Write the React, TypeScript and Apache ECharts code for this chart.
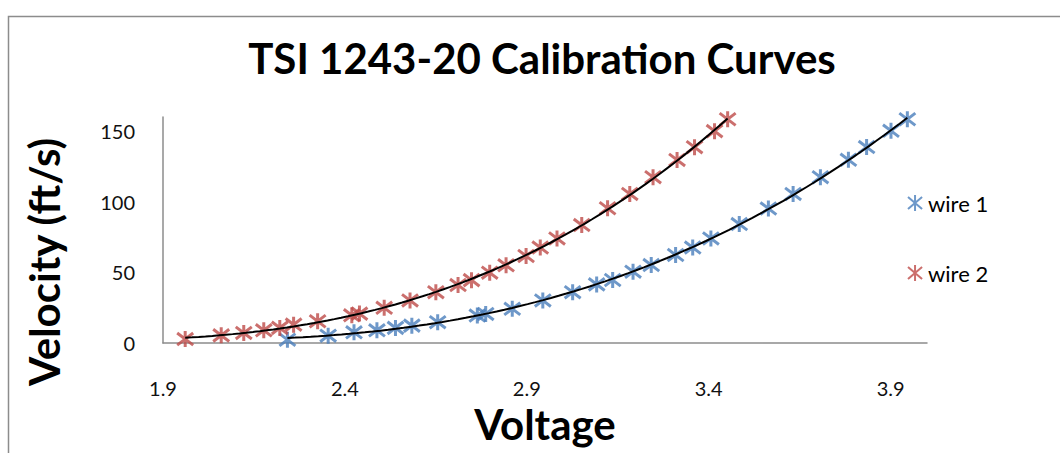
import React, { useEffect, useRef } from "react";
import * as echarts from "echarts";

const titleText = "TSI 1243-20 Calibration Curves";
const xAxisTitle = "Voltage";
const yAxisTitle = "Velocity (ft/s)";
const xTickValues = [1.9, 2.4, 2.9, 3.4, 3.9];

const wire1Voltage = [2.242, 2.354, 2.425, 2.488, 2.539, 2.584, 2.655, 2.764, 2.787, 2.86, 2.944, 3.026, 3.092, 3.136, 3.192, 3.242, 3.309, 3.356, 3.406, 3.484, 3.564, 3.632, 3.707, 3.784, 3.834, 3.901, 3.946];
const wire1Velocity = [2.3, 5.2, 7.6, 9.0, 10.7, 12.3, 14.7, 19.4, 20.6, 24.2, 30.1, 36.0, 41.5, 44.6, 50.5, 55.2, 62.3, 67.6, 74.0, 84.2, 95.2, 105.5, 117.4, 129.7, 138.7, 150.2, 158.4];
const wire2Voltage = [1.961, 2.06, 2.122, 2.177, 2.221, 2.259, 2.325, 2.419, 2.44, 2.508, 2.579, 2.65, 2.711, 2.748, 2.798, 2.843, 2.898, 2.937, 2.983, 3.051, 3.122, 3.183, 3.247, 3.313, 3.361, 3.416, 3.452];
const wire2Velocity = [2.8, 5.4, 7.1, 9.0, 10.7, 13.0, 15.4, 19.6, 20.8, 24.9, 30.1, 36.0, 41.0, 44.5, 49.8, 55.0, 61.6, 67.6, 74.0, 83.5, 95.4, 105.5, 117.4, 129.6, 138.6, 150.0, 158.4];

const BLUE = "#4A7EBB";
const RED = "#BE4B48";
const FONT = "Lato";
const STAR = "path://M5,0 L5,10 M0.6,1.2 L9.4,8.8 M0.6,8.8 L9.4,1.2";

// Least-squares polynomial trendline (like the spreadsheet's polynomial trendline)
function polyFit(xs: number[], ys: number[], order: number) {
  const mean = xs.reduce((a, b) => a + b, 0) / xs.length;
  const n = order + 1;
  const A: number[][] = Array.from({ length: n }, () => new Array(n + 1).fill(0));
  for (let k = 0; k < xs.length; k++) {
    const t = xs[k] - mean;
    for (let i = 0; i < n; i++) {
      for (let j = 0; j < n; j++) A[i][j] += Math.pow(t, i + j);
      A[i][n] += ys[k] * Math.pow(t, i);
    }
  }
  for (let c = 0; c < n; c++) {
    let p = c;
    for (let r = c + 1; r < n; r++) if (Math.abs(A[r][c]) > Math.abs(A[p][c])) p = r;
    [A[c], A[p]] = [A[p], A[c]];
    for (let r = 0; r < n; r++) {
      if (r === c) continue;
      const f = A[r][c] / A[c][c];
      for (let j = c; j <= n; j++) A[r][j] -= f * A[c][j];
    }
  }
  const coef = A.map((row, i) => row[n] / row[i]);
  return (x: number) => coef.reduce((s, c, i) => s + c * Math.pow(x - mean, i), 0);
}

function trend(xs: number[], ys: number[]) {
  const f = polyFit(xs, ys, 3);
  const lo = Math.min(...xs);
  const hi = Math.max(...xs);
  const out: number[][] = [];
  const steps = 80;
  for (let i = 0; i <= steps; i++) {
    const x = lo + ((hi - lo) * i) / steps;
    out.push([x, f(x)]);
  }
  return out;
}

export default function App() {
  const ref = useRef<HTMLDivElement>(null);
  useEffect(() => {
    if (!ref.current) return;
    const chart = echarts.init(ref.current, null, { renderer: "svg" });
    const pts = (xs: number[], ys: number[]) => xs.map((x, i) => [x, ys[i]]);
    chart.setOption({
      animation: false,
      backgroundColor: "#ffffff",
      title: {
        text: titleText,
        left: 537,
        top: 32,
        textAlign: "center",
        textStyle: { fontFamily: FONT, fontWeight: "bold", fontSize: 42, color: "#000" },
      },
      graphic: [
        {
          type: "rect",
          shape: { x: 8.5, y: 16.5, width: 1200, height: 600 },
          style: { fill: "none", stroke: "#8c8c8c", lineWidth: 1.5 },
          silent: true,
        },
        {
          type: "text",
          x: 44,
          y: 262,
          rotation: Math.PI / 2,
          style: {
            text: yAxisTitle,
            fontFamily: FONT,
            fontWeight: "bold",
            fontSize: 42,
            fill: "#000",
            align: "center",
            verticalAlign: "middle",
          },
        },
      ],
      legend: {
        orient: "vertical",
        left: 902,
        top: 187,
        itemGap: 48,
        itemWidth: 16,
        itemHeight: 16,
        data: [
          { name: "wire 1", icon: STAR },
          { name: "wire 2", icon: STAR },
        ],
        textStyle: { fontFamily: FONT, fontSize: 22, color: "#000" },
      },
      grid: { left: 163, right: 133, top: 117, bottom: 110, containLabel: false },
      xAxis: {
        type: "value",
        min: 1.9,
        max: 4.0,
        name: xAxisTitle,
        nameLocation: "middle",
        nameGap: 60,
        nameTextStyle: { fontFamily: FONT, fontWeight: "bold", fontSize: 42, color: "#000" },
        axisLine: { show: true, lineStyle: { color: "#8c8c8c", width: 1.5 } },
        axisTick: { show: false },
        splitLine: { show: false },
        axisLabel: {
          customValues: xTickValues,
          margin: 35,
          formatter: (v: number) => v.toFixed(1),
          fontFamily: FONT,
          fontSize: 20,
          color: "#111",
        },
      },
      yAxis: {
        type: "value",
        min: 0,
        max: 160,
        interval: 50,
        axisLine: { show: true, lineStyle: { color: "#8c8c8c", width: 1.5 } },
        axisTick: { show: false },
        splitLine: { show: false },
        axisLabel: { margin: 28, fontFamily: FONT, fontSize: 20, color: "#111" },
      },
      series: [
        {
          name: "wire 1",
          type: "scatter",
          data: pts(wire1Voltage, wire1Velocity),
          symbol: STAR,
          symbolSize: 16,
          itemStyle: { color: BLUE, borderColor: BLUE, borderWidth: 3 },
          z: 2,
        },
        {
          name: "wire 2",
          type: "scatter",
          data: pts(wire2Voltage, wire2Velocity),
          symbol: STAR,
          symbolSize: 16,
          itemStyle: { color: RED, borderColor: RED, borderWidth: 3 },
          z: 2,
        },
        {
          name: "trend 1",
          type: "line",
          data: trend(wire1Voltage, wire1Velocity),
          showSymbol: false,
          symbol: "none",
          silent: true,
          lineStyle: { color: "#000", width: 2 },
          z: 3,
        },
        {
          name: "trend 2",
          type: "line",
          data: trend(wire2Voltage, wire2Velocity),
          showSymbol: false,
          symbol: "none",
          silent: true,
          lineStyle: { color: "#000", width: 2 },
          z: 3,
        },
      ],
    });
    return () => chart.dispose();
  }, []);
  return (
    <div
      ref={ref}
      style={{ position: "absolute", left: 0, top: 0, width: 1060, height: 453 }}
    />
  );
}
